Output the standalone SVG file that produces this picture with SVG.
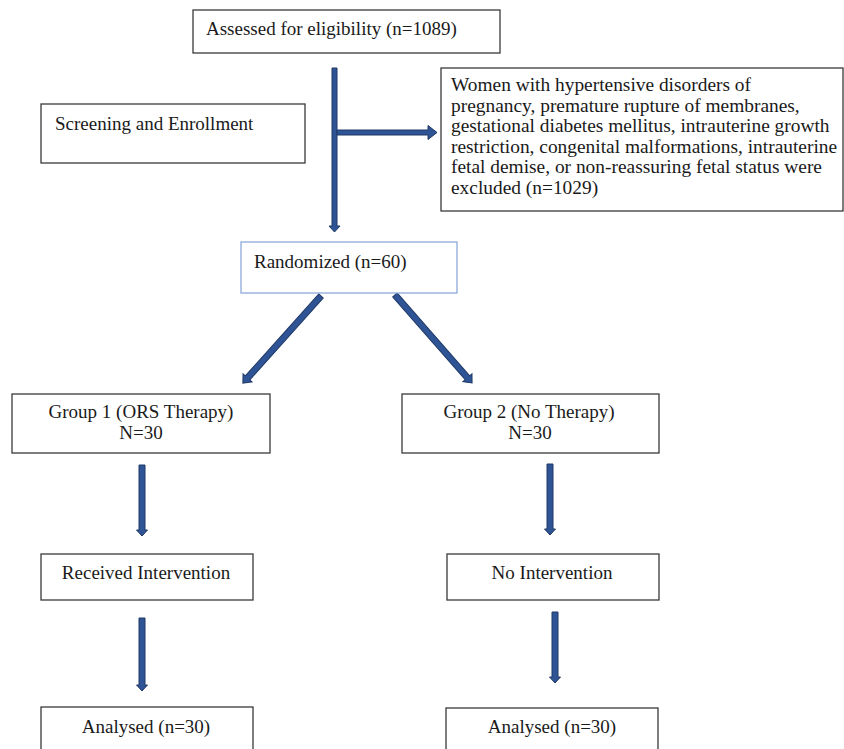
<svg xmlns="http://www.w3.org/2000/svg" width="844" height="749" viewBox="0 0 844 749">
<style>
.box{fill:#fff;stroke:#3a3a3a;stroke-width:1.3}
.rbox{fill:#fff;stroke:#8eaadb;stroke-width:1.3}
text{font-family:"Liberation Serif","Times New Roman",serif;font-size:19px;fill:#1a1a1a}
.ex{font-size:19.4px}
.c{text-anchor:middle}
.arr{fill:#2f5496;stroke:#1f3864;stroke-width:1}
</style>
<rect width="844" height="749" fill="#fff"/>
<g id="connectors">
<polygon class="arr" points="332,68 337,68 337,226 340,226 334.5,232 329,226 332,226"/>
<polygon class="arr" points="337,130 428,130 428,125.5 437,132.5 428,139.5 428,135 337,135"/>
<polygon class="arr" transform="translate(321,296) rotate(41.9)" points="-3,0 3,0 3,110 6,110 0,117 -6,110 -3,110"/>
<polygon class="arr" transform="translate(395,295) rotate(-41.2)" points="-3,0 3,0 3,110 6,110 0,117 -6,110 -3,110"/>
<polygon class="arr" points="139,465 145,465 145,530 147.5,530 142,536 136.5,530 139,530"/>
<polygon class="arr" points="139,618 145,618 145,685 147.5,685 142,691 136.5,685 139,685"/>
<polygon class="arr" points="547,464 553,464 553,529 555.5,529 550,535 544.5,529 547,529"/>
<polygon class="arr" points="552,612 558,612 558,677 560.5,677 555,683 549.5,677 552,677"/>
</g>
<g id="assessed"><rect class="box" x="193" y="10" width="307" height="43"/><text x="206" y="35">Assessed for eligibility (n=1089)</text></g>
<g id="screening"><rect class="box" x="41" y="104" width="264" height="59"/><text x="55" y="130">Screening and Enrollment</text></g>
<g id="excluded"><rect class="box" x="441" y="68" width="402" height="143"/>
<text class="ex" x="451" y="91">Women with hypertensive disorders of</text>
<text class="ex" x="451" y="111.5">pregnancy, premature rupture of membranes,</text>
<text class="ex" x="451" y="132">gestational diabetes mellitus, intrauterine growth</text>
<text class="ex" x="451" y="152.5">restriction, congenital malformations, intrauterine</text>
<text class="ex" x="451" y="173">fetal demise, or non-reassuring fetal status were</text>
<text class="ex" x="451" y="193.5">excluded (n=1029)</text></g>
<g id="randomized"><rect class="rbox" x="241" y="242" width="216" height="51"/><text x="254" y="268">Randomized (n=60)</text></g>
<g id="group1"><rect class="box" x="12" y="394" width="258" height="59"/><text class="c" x="141" y="418">Group 1 (ORS Therapy)</text><text class="c" x="141" y="439">N=30</text></g>
<g id="group2"><rect class="box" x="402" y="394" width="257" height="59"/><text class="c" x="529" y="418">Group 2 (No Therapy)</text><text class="c" x="530" y="439">N=30</text></g>
<g id="received"><rect class="box" x="41" y="554" width="212" height="46"/><text class="c" x="146" y="579">Received Intervention</text></g>
<g id="nointervention"><rect class="box" x="447" y="554" width="212" height="46"/><text class="c" x="552" y="579">No Intervention</text></g>
<g id="analysed1"><rect class="box" x="41" y="707" width="212" height="60"/><text class="c" x="146" y="733">Analysed (n=30)</text></g>
<g id="analysed2"><rect class="box" x="446" y="708" width="212" height="60"/><text class="c" x="552" y="733">Analysed (n=30)</text></g>
</svg>
